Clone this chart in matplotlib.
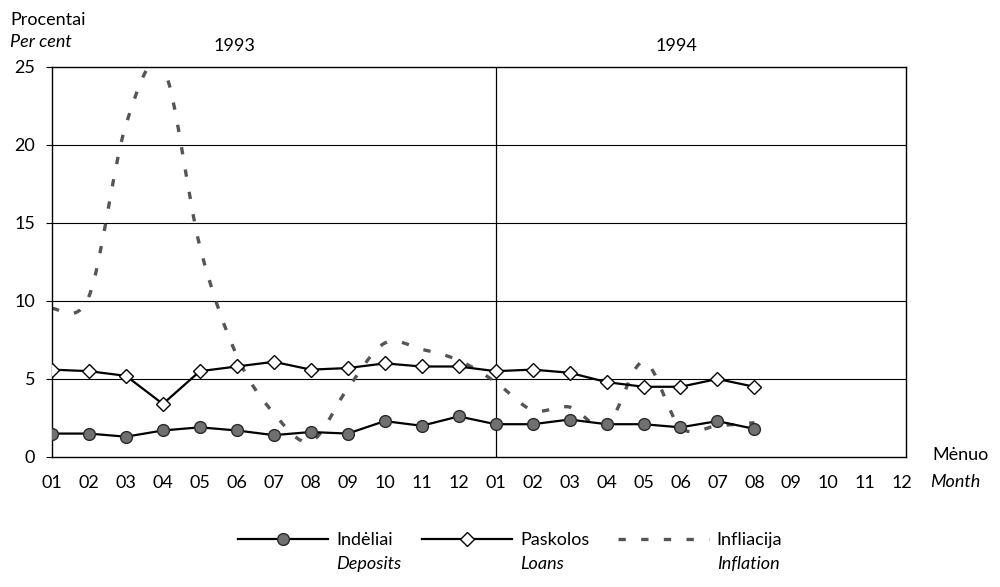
"""
Deposit and loan rates versus inflation, monthly 1993-1994
"""
import matplotlib

matplotlib.use("Agg")
import matplotlib.pyplot as plt
import numpy as np
from matplotlib.lines import Line2D
from matplotlib.path import Path
from matplotlib.patches import PathPatch

plt.rcParams["font.family"] = ["Lato", "DejaVu Sans"]

month_labels = ["01", "02", "03", "04", "05", "06", "07", "08", "09", "10", "11", "12"] * 2
year_labels = ["1993", "1994"]

deposits = [1.5, 1.5, 1.3, 1.7, 1.9, 1.7, 1.4, 1.6, 1.5, 2.3, 2.0, 2.6,
            2.1, 2.1, 2.4, 2.1, 2.1, 1.9, 2.3, 1.8]
loans = [5.6, 5.5, 5.2, 3.4, 5.5, 5.8, 6.1, 5.6, 5.7, 6.0, 5.8, 5.8,
         5.5, 5.6, 5.4, 4.8, 4.5, 4.5, 5.0, 4.5]
inflation = [9.5, 10.3, 21.3, 25.0, 13.5, 6.5, 2.8, 1.0, 4.4, 7.3, 6.9, 6.2,
             4.8, 3.0, 3.2, 2.0, 6.1, 1.9, 2.0, 2.2]


def smooth_path(x, y):
    # bezier through the points, like a spreadsheet "smoothed line"
    pts = np.column_stack([x, y]).astype(float)
    n = len(pts)
    verts = [pts[0]]
    codes = [Path.MOVETO]
    for i in range(n - 1):
        p0 = pts[i - 1] if i > 0 else pts[i]
        p1 = pts[i]
        p2 = pts[i + 1]
        p3 = pts[i + 2] if i + 2 < n else pts[i + 1]
        verts += [p1 + (p2 - p0) / 6, p2 - (p3 - p1) / 6, p2]
        codes += [Path.CURVE4] * 3
    return Path(verts, codes)


fig = plt.figure(figsize=(10, 5.87), dpi=100)
ax = fig.add_axes([0.052, 0.2215, 0.854, 0.6644])

x_all = np.arange(len(month_labels))
x_dep = np.arange(len(deposits))
x_loan = np.arange(len(loans))
x_inf = np.arange(len(inflation))

for yv in (5, 10, 15, 20):
    ax.axhline(yv, color="black", lw=0.8, zorder=1)
ax.axvline(12, color="black", lw=0.9, zorder=1)

dash = (0, (2.2, 4.6))
ax.add_patch(PathPatch(smooth_path(x_inf, inflation), fill=False,
                       edgecolor="#555555", lw=2.4, linestyle=dash, zorder=2))

ax.plot(x_dep, deposits, color="black", lw=1.6, marker="o", markersize=8.5,
        markerfacecolor="#707070", markeredgecolor="#2a2a2a", markeredgewidth=1.0,
        zorder=4)
ax.plot(x_loan, loans, color="black", lw=1.6, marker="D", markersize=7.5,
        markerfacecolor="white", markeredgecolor="black", markeredgewidth=1.0,
        zorder=4)

ax.set_xlim(0, 23.1)
ax.set_ylim(0, 25)
ax.set_yticks([0, 5, 10, 15, 20, 25])
ax.set_xticks(x_all)
ax.set_xticklabels(month_labels)
ax.tick_params(axis="x", length=0, pad=13, labelsize=13)
ax.tick_params(axis="y", length=4, pad=8, labelsize=13, direction="out")
for s in ax.spines.values():
    s.set_linewidth(1.0)
    s.set_color("black")

trans = ax.get_xaxis_transform()
ax.text(4.93, 1.054, year_labels[0], transform=trans, ha="center", va="center",
        fontsize=13)
ax.text(16.9, 1.054, year_labels[1], transform=trans, ha="center", va="center",
        fontsize=13)

fig.text(0.010, 1 - 20 / 587, "Procentai", ha="left", va="center", fontsize=13)
fig.text(0.010, 1 - 42 / 587, "Per cent", ha="left", va="center", fontsize=13,
         style="italic")
fig.text(0.932, 1 - 455 / 587, "Mėnuo", ha="left", va="center", fontsize=13)
fig.text(0.930, 1 - 482 / 587, "Month", ha="left", va="center", fontsize=13,
         style="italic")

handles = [
    Line2D([], [], color="black", lw=1.6, marker="o", markersize=8.5,
           markerfacecolor="#707070", markeredgecolor="#2a2a2a"),
    Line2D([], [], color="black", lw=1.6, marker="D", markersize=7.5,
           markerfacecolor="white", markeredgecolor="black"),
    Line2D([], [], color="#555555", lw=2.4, linestyle=dash),
]
leg = fig.legend(handles, ["Indėliai", "Paskolos", "Infliacija"], ncol=3,
                 loc="center", bbox_to_anchor=(0.51, 1 - 540 / 587),
                 frameon=False, fontsize=13, handlelength=5.0,
                 handletextpad=0.45, columnspacing=1.6, numpoints=1)

fig.canvas.draw()
for t, en in zip(leg.get_texts(), ["Deposits", "Loans", "Inflation"]):
    bb = t.get_window_extent()
    fig.text(bb.x0 / fig.bbox.width, 1 - 564 / 587, en, ha="left", va="center",
             fontsize=13, style="italic")

fig.savefig("out.png", dpi=100)
